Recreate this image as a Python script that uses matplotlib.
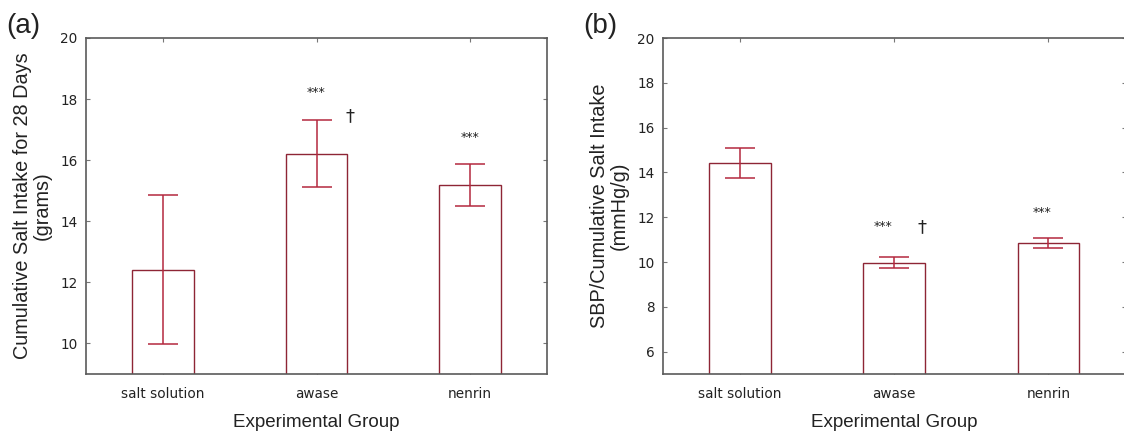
import matplotlib
matplotlib.use("Agg")
import matplotlib.pyplot as plt
import numpy as np

categories = ["salt solution", "awase", "nenrin"]

intake_mean = [12.42, 16.21, 15.18]
intake_err = [2.45, 1.10, 0.69]

ratio_mean = [14.40, 9.97, 10.86]
ratio_err = [0.67, 0.25, 0.22]

yticks_a = [10, 12, 14, 16, 18, 20]
yticks_b = [6, 8, 10, 12, 14, 16, 18, 20]

# annotations: (category index, y value, text)
annot_a = [(1, 18.2, "***"), (1.22, 17.45, "†"), (2, 16.75, "***")]
annot_b = [(0.93, 11.6, "***"), (1.18, 11.55, "†"), (1.96, 12.2, "***")]

W, H = 1124, 433
fig = plt.figure(figsize=(W / 100, H / 100), dpi=100)

edge = "#8e2535"
ecol = "#b4283e"
spine_col = "#5a5a5a"
txt = "#222222"
tickfont = "DejaVu Sans"
labfont = "Liberation Sans"


def make_panel(rect, means, errs, ylim, yticks, ylabel, annots, letter, letter_x):
    ax = fig.add_axes(rect)
    x = np.arange(len(categories))
    ax.bar(x, means, width=0.4, color="white", edgecolor=edge, linewidth=1.0, zorder=2)
    ax.errorbar(x, means, yerr=errs, fmt="none", ecolor=ecol, elinewidth=1.1,
                capsize=11, capthick=1.1, zorder=3)
    ax.set_xlim(-0.5, 2.5)
    ax.set_ylim(*ylim)
    ax.set_yticks(yticks)
    ax.set_xticks(x)
    ax.set_xticklabels(categories, fontsize=9.8, family=tickfont, color=txt)
    ax.set_yticklabels([str(t) for t in yticks], fontsize=9.8, family=tickfont, color=txt)
    ax.tick_params(direction="in", length=3, width=0.8, color="#777777",
                   top=True, right=True, pad=6)
    ax.tick_params(axis="x", pad=9)
    for s in ax.spines.values():
        s.set_color(spine_col)
        s.set_linewidth(1.2)
    ax.set_xlabel("Experimental Group", fontsize=13.5, family=labfont, color=txt, labelpad=10)
    ax.set_ylabel(ylabel, fontsize=14.3, family=labfont, color=txt, labelpad=6,
                  linespacing=1.05)
    for xi, yi, t in annots:
        if t == "†":
            ax.text(xi, yi, t, ha="center", va="center", fontsize=13,
                    family="DejaVu Sans", color=txt)
        else:
            ax.text(xi, yi, t, ha="center", va="center", fontsize=9,
                    family=tickfont, color=txt)
    fig.text(letter_x, 0.94, letter, fontsize=20, family=labfont, color=txt,
             ha="left", va="center")
    return ax


b = 1 - 374 / H
t = 1 - 38 / H
make_panel([86 / W, b, (547 - 86) / W, t - b], intake_mean, intake_err, (9, 20),
           yticks_a, "Cumulative Salt Intake for 28 Days\n(grams)", annot_a, "(a)", 6 / W)
make_panel([663 / W, b, (1125.5 - 663) / W, t - b], ratio_mean, ratio_err, (5, 20),
           yticks_b, "SBP/Cumulative Salt Intake\n(mmHg/g)", annot_b, "(b)", 583 / W)

fig.savefig("out.png", dpi=100)
